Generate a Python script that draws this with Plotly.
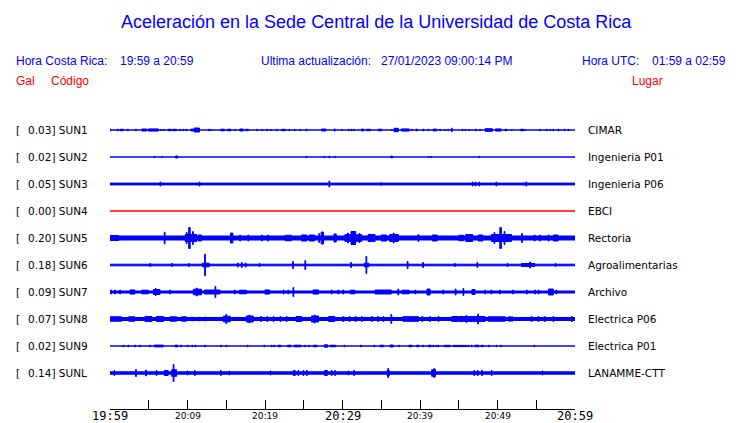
import plotly.graph_objects as go

# ---------------- data ----------------
stations = ["SUN1", "SUN2", "SUN3", "SUN4", "SUN5", "SUN6", "SUN7", "SUN8", "SUN9", "SUNL"]
peak_gal = [0.03, 0.02, 0.05, 0.00, 0.20, 0.18, 0.09, 0.07, 0.02, 0.14]
places = ["CIMAR", "Ingenieria P01", "Ingenieria P06", "EBCI", "Rectoria",
          "Agroalimentarias", "Archivo", "Electrica P06", "Electrica P01", "LANAMME-CTT"]
trace_colors = ["#0000ff", "#0000ff", "#0000ff", "#ff0000", "#0000ff",
                "#0000ff", "#0000ff", "#0000ff", "#0000ff", "#0000ff"]

# background (noise) half-amplitude of each trace, display units
base_amp = [0.5, 0.5, 1.4, 0.0, 2.5, 1.3, 1.5, 2.0, 0.5, 1.7]

# time in minutes after 19:59; bursts = (start, end, half amplitude), spikes = (time, half amplitude)
bursts_sun1 = [(1.35, 1.7, 1.3), (4.1, 4.75, 1.5), (4.95, 6.25, 1.6), (7.5, 7.9, 1.2), (8.1, 8.6, 1.2),
               (10.45, 10.75, 1.5), (10.85, 11.55, 2.5), (14.3, 14.75, 1.3), (15.15, 15.6, 1.3),
               (16.75, 17.2, 1.5), (17.5, 17.85, 1.2), (22.15, 22.6, 1.2), (27.3, 27.85, 1.5),
               (32.45, 32.75, 1.4), (33.1, 33.6, 1.2), (34.6, 35.05, 1.3), (36.65, 37.2, 2.2),
               (37.6, 38.6, 1.6), (39.5, 39.65, 1.4), (41.7, 42.15, 1.4), (48.4, 49.35, 1.8),
               (49.75, 50.45, 1.6), (50.95, 51.2, 1.2), (53.0, 53.35, 1.3)]
spikes_sun1 = [(0.05, 1.3), (1.0, 1.3), (2.3, 1.3), (3.35, 1.3), (6.6, 1.0), (6.95, 1.0), (9.05, 1.2),
               (9.45, 1.2), (9.85, 1.2), (12.75, 1.3), (13.05, 1.0), (16.15, 1.0), (18.95, 1.2),
               (19.65, 1.0), (20.25, 1.2), (20.75, 1.0), (21.55, 1.2), (23.15, 1.2), (23.8, 1.2),
               (24.55, 1.2), (25.35, 1.4), (29.0, 1.6), (29.95, 1.0), (30.8, 1.2), (31.15, 1.2),
               (31.45, 1.2), (36.35, 1.0), (38.95, 1.2), (40.45, 1.4), (41.1, 1.2), (42.6, 1.2),
               (43.25, 1.0), (43.65, 1.2), (44.1, 2.3), (45.5, 1.2), (45.85, 1.0), (46.35, 1.0),
               (47.2, 1.5), (47.75, 1.2), (51.85, 1.0), (53.55, 1.0), (55.5, 1.2), (56.35, 1.2),
               (56.8, 1.0), (57.2, 1.2), (57.85, 1.4), (58.65, 1.2), (59.15, 1.2)]

bursts_sun2 = [(8.45, 8.75, 1.5), (36.25, 36.45, 1.4)]
spikes_sun2 = [(5.75, 1.2), (6.7, 1.0), (25.35, 1.2), (27.65, 1.2), (28.3, 1.3), (29.05, 1.0),
               (41.1, 1.0), (41.45, 1.0), (47.65, 1.2)]

bursts_sun3 = []
spikes_sun3 = [(6.5, 2.5), (11.55, 2.5), (28.3, 3.5), (35.0, 1.8), (46.8, 2.5), (47.15, 2.5),
               (47.65, 2.5), (49.85, 2.5), (53.7, 2.5)]

bursts_sun4 = []
spikes_sun4 = []

bursts_sun5 = [(0.0, 1.1, 3.0), (9.7, 11.2, 4.0), (10.15, 10.35, 11.0), (11.4, 11.8, 3.5), (15.55, 15.85, 5.5),
               (22.6, 23.4, 3.2), (24.7, 25.4, 3.5), (25.7, 26.4, 3.5), (27.25, 27.55, 6.5), (28.9, 29.2, 4.5),
               (30.3, 32.5, 3.8), (31.1, 31.7, 7.0), (33.3, 34.2, 4.0), (35.0, 35.7, 3.5), (36.1, 37.2, 4.0),
               (41.6, 42.2, 3.5), (45.0, 45.6, 3.2), (45.9, 46.8, 4.0), (47.5, 48.1, 3.5), (49.2, 51.8, 4.0),
               (50.3, 50.5, 11.0), (57.2, 57.8, 3.5)]
spikes_sun5 = [(7.05, 6.3), (16.8, 3.5), (17.85, 3.5), (19.6, 3.5), (20.4, 3.5), (39.8, 4.0), (53.15, 5.0),
               (54.8, 3.5), (55.5, 3.5), (56.6, 3.5), (9.9, 6.0), (10.7, 7.0), (27.0, 5.0), (30.7, 5.5),
               (32.2, 5.0), (36.6, 5.5), (49.6, 6.0), (50.9, 7.0)]

bursts_sun6 = [(11.9, 12.8, 2.3), (32.8, 33.4, 2.3), (53.1, 54.8, 2.0)]
spikes_sun6 = [(12.26, 11.3), (33.08, 9.0), (23.6, 4.0), (25.2, 5.0), (31.1, 3.0), (38.4, 4.0), (40.4, 3.0),
               (47.4, 3.0), (54.2, 3.5), (17.0, 3.0), (17.5, 2.5), (16.5, 2.5), (5.2, 2.0), (8.0, 2.0),
               (10.2, 2.0), (19.3, 2.0), (44.5, 2.0), (51.3, 2.0), (57.5, 2.0)]

bursts_sun7 = [(2.6, 3.2, 2.6), (4.1, 4.95, 2.3), (5.6, 6.45, 3.0), (10.75, 11.8, 3.3), (12.2, 14.2, 2.5),
               (16.7, 17.6, 2.3), (20.0, 20.6, 2.6), (26.2, 26.9, 2.6), (31.0, 31.6, 2.3), (34.2, 36.3, 2.5),
               (37.7, 38.6, 2.3), (40.9, 41.3, 3.5), (46.7, 47.1, 3.0), (56.6, 57.2, 3.5)]
spikes_sun7 = [(0.15, 2.5), (0.65, 2.5), (1.3, 2.5), (7.75, 2.5), (13.6, 6.0), (16.1, 2.5), (22.4, 2.5),
               (23.0, 2.5), (23.66, 5.0), (28.6, 2.5), (29.45, 2.5), (30.1, 2.5), (37.2, 3.5), (39.4, 2.5),
               (43.0, 2.5), (44.6, 3.5), (45.6, 4.0), (48.4, 2.5), (49.2, 2.5), (50.3, 2.5), (52.0, 2.5),
               (53.8, 2.5), (54.85, 2.5), (55.3, 2.5), (57.6, 2.5), (11.2, 4.5), (5.9, 4.0)]

bursts_sun8 = [(0.0, 1.5, 2.7), (2.4, 3.2, 2.7), (4.5, 5.4, 3.0), (6.0, 6.9, 3.0), (7.75, 8.6, 2.7),
               (9.25, 9.9, 2.7), (14.6, 15.5, 3.3), (17.6, 18.5, 3.5), (24.0, 24.75, 3.0), (26.0, 26.9, 3.5),
               (28.2, 29.0, 3.0), (37.8, 39.8, 2.8), (44.1, 44.9, 3.0), (45.0, 48.4, 2.9), (48.8, 51.0, 2.7),
               (51.4, 52.0, 2.6)]
spikes_sun8 = [(10.6, 2.5), (11.5, 2.5), (12.3, 2.5), (15.0, 5.0), (19.5, 3.0), (20.3, 3.0), (21.1, 3.0),
               (22.0, 3.0), (22.8, 3.0), (30.1, 3.0), (30.9, 3.0), (31.7, 3.0), (32.5, 3.0), (33.8, 3.0),
               (34.6, 3.0), (35.3, 3.0), (36.3, 5.0), (40.3, 3.0), (41.3, 3.0), (42.4, 3.0), (47.5, 5.5),
               (54.4, 3.0), (55.3, 3.0), (56.1, 3.0), (57.2, 3.0), (59.6, 3.0), (18.0, 4.5), (26.4, 4.5),
               (46.0, 4.0)]

bursts_sun9 = [(5.72, 6.88, 1.4), (8.39, 8.73, 1.4), (21.72, 22.02, 1.3), (22.92, 23.35, 1.3),
               (23.78, 24.65, 1.3), (26.24, 26.67, 1.3), (27.66, 28.09, 1.7), (28.39, 29.12, 1.3),
               (34.84, 35.27, 1.3), (36.13, 36.56, 1.5), (38.58, 38.92, 1.3), (39.57, 39.87, 1.3),
               (41.08, 41.42, 1.3), (43.14, 43.87, 1.2), (44.3, 46.02, 1.1), (47.1, 47.61, 1.3),
               (47.87, 48.17, 1.2)]
spikes_sun9 = [(1.72, 1.3), (2.37, 1.3), (3.23, 1.3), (3.87, 1.3), (5.16, 1.3), (9.16, 1.3), (10.02, 1.3),
               (10.62, 1.3), (11.05, 1.3), (12.26, 1.3), (14.32, 1.3), (15.05, 1.3), (17.76, 1.3),
               (19.91, 1.3), (20.86, 1.3), (21.2, 1.3), (25.16, 1.3), (25.68, 1.3), (30.24, 1.3),
               (32.39, 1.3), (34.11, 1.3), (37.29, 1.3), (40.43, 1.3), (41.72, 1.3), (42.15, 1.3),
               (42.37, 1.3), (46.24, 1.3), (46.67, 1.3), (48.9, 1.3), (49.89, 1.3), (50.45, 1.3),
               (54.75, 1.3)]

bursts_sunl = [(7.0, 7.5, 3.0), (7.96, 8.6, 3.8), (23.65, 23.9, 3.0), (27.7, 28.05, 3.0),
               (35.75, 36.05, 3.0), (41.5, 42.0, 3.8)]
spikes_sunl = [(0.56, 3.0), (3.35, 4.0), (4.65, 3.5), (6.0, 3.0), (8.2, 9.0), (10.0, 2.5), (10.95, 3.0),
               (14.3, 3.0), (15.4, 2.5), (20.7, 2.5), (24.3, 3.0), (24.95, 3.0), (25.4, 3.0), (28.6, 3.0),
               (29.05, 3.0), (30.75, 2.5), (31.5, 3.0), (35.9, 5.0), (41.85, 5.0), (47.0, 3.0),
               (47.45, 3.0), (48.0, 3.0), (49.25, 3.0), (55.8, 2.5)]

all_bursts = [bursts_sun1, bursts_sun2, bursts_sun3, bursts_sun4, bursts_sun5,
              bursts_sun6, bursts_sun7, bursts_sun8, bursts_sun9, bursts_sunl]
all_spikes = [spikes_sun1, spikes_sun2, spikes_sun3, spikes_sun4, spikes_sun5,
              spikes_sun6, spikes_sun7, spikes_sun8, spikes_sun9, spikes_sunl]

tick_minutes = [0, 10, 20, 30, 40, 50, 60]
tick_labels = ["19:59", "20:09", "20:19", "20:29", "20:39", "20:49", "20:59"]
major_ticks = ["19:59", "20:29", "20:59"]

title_text = "Aceleración en la Sede Central de la Universidad de Costa Rica"
cr_label, cr_range = "Hora Costa Rica:", "19:59 a 20:59"
upd_label, upd_value = "Ultima actualización:", "27/01/2023 09:00:14 PM"
utc_label, utc_range = "Hora UTC:", "01:59 a 02:59"

# ---------------- layout geometry ----------------
W, H = 740, 423
L, R, T, B = 110, 165, 115, 14
PW, PH = W - L - R, H - T - B
ROW = 27.0
Y_TOP = 15.0
Y_BOT = Y_TOP - PH


def px_x(p):
    return (p - L) / PW


def px_y(p):
    return (H - B - p) / PH


fig = go.Figure()

HALF_LINE = 0.5
SPIKE_W = 0.05

for k, name in enumerate(stations):
    yc = -ROW * k
    xs, ys = [], []

    def rect(t0, t1, a):
        h = max(a - HALF_LINE, 0.0)
        xs.extend([t0, t1, t1, t0, t0, None])
        ys.extend([yc - h, yc - h, yc + h, yc + h, yc - h, None])

    rect(0, 60, base_amp[k])
    for t0, t1, a in all_bursts[k]:
        rect(t0, t1, a)
    for t, a in all_spikes[k]:
        rect(max(t - SPIKE_W, 0), min(t + SPIKE_W, 60), a)
    fig.add_trace(go.Scatter(x=xs, y=ys, mode="lines", fill="toself",
                             fillcolor=trace_colors[k],
                             line=dict(color=trace_colors[k], width=1),
                             hoverinfo="skip", showlegend=False))

annotations = []
lab_font = dict(family="DejaVu Sans", size=10.5, color="black")
for k, name in enumerate(stations):
    yc = -ROW * k
    annotations.append(dict(x=px_x(14), y=yc, xref="paper", yref="y", text="[",
                            xanchor="left", yanchor="middle", showarrow=False, font=lab_font))
    annotations.append(dict(x=px_x(26), y=yc, xref="paper", yref="y",
                            text=f"{peak_gal[k]:.2f}] {name}",
                            xanchor="left", yanchor="middle", showarrow=False, font=lab_font))
    annotations.append(dict(x=px_x(586), y=yc, xref="paper", yref="y", text=places[k],
                            xanchor="left", yanchor="middle", showarrow=False, font=lab_font))

for m, lab in zip(tick_minutes, tick_labels):
    big = lab in major_ticks
    annotations.append(dict(x=m, y=0, xref="x", yref="paper", text=lab,
                            xanchor="center", yanchor="middle", showarrow=False,
                            yshift=-7, borderpad=0, borderwidth=0,
                            font=dict(family="DejaVu Sans Mono" if big else "DejaVu Sans",
                                      size=12 if big else 9, color="black")))

blue, red = "#0000ff", "#ff0000"
hfont = dict(family="Liberation Sans", size=12, color=blue)
rfont = dict(family="Liberation Sans", size=12, color=red)


def head(txt, x, y, font, anchor="left"):
    annotations.append(dict(x=px_x(x), y=px_y(y), xref="paper", yref="paper", text=txt,
                            xanchor=anchor, yanchor="middle", showarrow=False, font=font))


head(title_text, 376, 22, dict(family="Liberation Sans", size=18, color=blue), "center")
head(cr_label, 14, 61, hfont)
head(cr_range, 118, 61, hfont)
head(upd_label, 259, 61, hfont)
head(upd_value, 379, 61, hfont)
head(utc_label, 580, 61, hfont)
head(utc_range, 650, 61, hfont)
head("Gal", 14, 81, rfont)
head("Código", 49, 81, rfont)
head("Lugar", 630, 81, rfont)

fig.update_layout(
    width=W, height=H,
    margin=dict(l=L, r=R, t=T, b=B, pad=0),
    paper_bgcolor="white", plot_bgcolor="white",
    showlegend=False,
    annotations=annotations,
    xaxis=dict(range=[0, 60], showgrid=False, zeroline=False, showline=True,
               linecolor="black", linewidth=1, ticks="inside", ticklen=9,
               tickcolor="black", tickwidth=1, tickmode="linear", tick0=0, dtick=5,
               showticklabels=False, fixedrange=True),
    yaxis=dict(range=[Y_BOT, Y_TOP], showgrid=False, zeroline=False, showline=False,
               showticklabels=False, ticks="", fixedrange=True),
)

fig.write_html("out.html",
               config={"displayModeBar": False},
               post_script="document.body.style.margin='0';document.body.style.overflow='hidden';")
